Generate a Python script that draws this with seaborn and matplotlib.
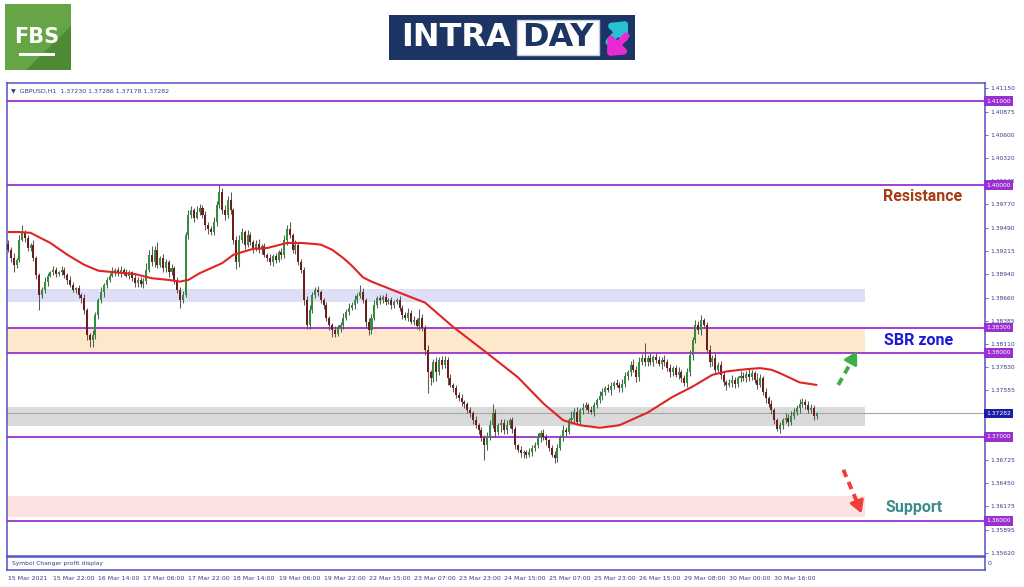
import numpy as np
import pandas as pd
import matplotlib
matplotlib.use("Agg")
import matplotlib.pyplot as plt
import matplotlib.transforms as mtransforms
from matplotlib.patches import Rectangle, Polygon
import seaborn as sns

# prices are kept as pips above 1.3600
base = 1.36
first_open_pips = 330

close_pips = [
    323, 313, 305, 311, 335, 344, 337, 325, 329, 313, 293, 269, 275, 285, 292, 296, 299, 294, 296, 299, 293, 287, 281, 275,
    277, 269, 265, 251, 221, 215, 221, 245, 263, 273, 281, 287, 292, 296, 299, 295, 299, 296, 292, 296, 289, 283, 287, 282,
    286, 299, 317, 308, 323, 305, 313, 301, 308, 296, 301, 287, 275, 263, 269, 340, 364, 370, 361, 368, 373, 364, 352, 348,
    344, 356, 376, 392, 370, 364, 382, 370, 335, 308, 335, 344, 329, 340, 332, 325, 330, 323, 327, 317, 313, 308, 315, 311,
    320, 317, 335, 348, 340, 323, 329, 308, 299, 263, 233, 251, 269, 275, 273, 263, 257, 242, 233, 227, 223, 230, 233, 242,
    249, 254, 257, 263, 268, 273, 263, 237, 227, 242, 257, 265, 263, 267, 261, 263, 257, 261, 263, 254, 245, 242, 248, 237,
    239, 232, 242, 230, 204, 177, 170, 189, 177, 192, 186, 192, 170, 162, 158, 150, 146, 142, 139, 132, 129, 120, 114, 108,
    99, 90, 101, 114, 129, 106, 114, 117, 108, 114, 120, 110, 90, 85, 81, 82, 79, 82, 87, 90, 99, 105, 100, 96,
    87, 79, 75, 87, 99, 108, 106, 120, 123, 130, 118, 132, 135, 138, 132, 130, 138, 144, 149, 154, 158, 156, 161, 164,
    162, 158, 163, 173, 177, 186, 180, 171, 189, 194, 189, 194, 189, 195, 192, 187, 192, 189, 182, 177, 182, 174, 177, 170,
    164, 177, 198, 215, 233, 227, 239, 233, 204, 189, 194, 180, 186, 174, 165, 162, 164, 168, 163, 170, 173, 170, 175, 171,
    176, 168, 162, 170, 154, 146, 139, 132, 120, 110, 114, 120, 123, 118, 125, 130, 135, 139, 142, 138, 132, 135, 125, 128.2,
]

wick_up = [
    4, 3, 6, 2, 5, 8, 3, 4, 2, 5, 3, 2, 4, 6, 3, 2, 5, 3, 2, 4, 3, 2, 5, 3,
    2, 4, 3, 5, 2, 3, 6, 4, 3, 5, 2, 4, 3, 6, 2, 3, 5, 2, 4, 3, 2, 5, 3, 4,
    3, 8, 6, 10, 4, 9, 3, 5, 4, 3, 5, 2, 3, 4, 5, 4, 6, 5, 3, 7, 4, 3, 5, 4,
    3, 6, 5, 8, 4, 6, 5, 10, 3, 4, 6, 5, 3, 7, 4, 3, 5, 6, 3, 4, 2, 5, 3, 4,
    3, 5, 6, 4, 8, 3, 5, 2, 4, 3, 5, 6, 4, 3, 5, 2, 3, 4, 2, 3, 5, 3, 4, 6,
    3, 5, 4, 6, 3, 8, 4, 3, 5, 4, 6, 3, 4, 2, 5, 3, 4, 2, 3, 5, 3, 4, 6, 3,
    5, 3, 10, 4, 3, 5, 3, 4, 6, 3, 5, 4, 3, 5, 2, 4, 3, 5, 2, 3, 4, 2, 5, 3,
    4, 3, 5, 6, 10, 4, 3, 5, 4, 6, 3, 4, 3, 2, 4, 3, 2, 5, 3, 4, 6, 3, 4, 3,
    2, 3, 4, 5, 3, 6, 4, 3, 8, 4, 6, 3, 5, 4, 3, 5, 4, 3, 6, 4, 3, 5, 4, 3,
    5, 3, 6, 4, 3, 5, 7, 4, 6, 5, 18, 4, 6, 3, 5, 4, 3, 6, 4, 5, 3, 4, 6, 3,
    4, 5, 6, 4, 6, 5, 6, 3, 4, 5, 4, 6, 3, 5, 4, 3, 5, 6, 4, 3, 5, 4, 3, 6,
    4, 3, 8, 5, 3, 4, 3, 5, 2, 3, 4, 3, 5, 4, 6, 5, 3, 6, 4, 3, 5, 4, 3, 2,
]

wick_dn = [
    3, 5, 8, 4, 3, 2, 5, 3, 4, 3, 5, 18, 4, 3, 5, 2, 3, 4, 2, 3, 4, 5, 3, 2,
    4, 3, 5, 4, 6, 8, 8, 4, 5, 3, 6, 4, 3, 2, 4, 3, 5, 3, 2, 4, 3, 5, 4, 3,
    5, 4, 3, 5, 6, 4, 3, 5, 4, 6, 3, 5, 4, 10, 3, 2, 4, 3, 5, 2, 4, 3, 5, 6,
    3, 4, 5, 3, 4, 6, 3, 4, 5, 8, 6, 4, 5, 3, 4, 6, 3, 4, 5, 3, 4, 3, 5, 4,
    3, 5, 4, 6, 3, 4, 5, 3, 4, 6, 5, 4, 3, 4, 5, 3, 5, 4, 6, 8, 4, 3, 5, 4,
    3, 4, 3, 5, 4, 3, 4, 6, 5, 4, 3, 4, 5, 3, 4, 3, 5, 4, 3, 4, 5, 3, 4, 3,
    4, 3, 5, 4, 6, 25, 8, 4, 10, 3, 5, 4, 8, 3, 5, 4, 3, 5, 4, 3, 5, 4, 3, 5,
    4, 17, 5, 4, 3, 6, 4, 8, 5, 4, 3, 5, 4, 3, 5, 6, 4, 3, 5, 4, 3, 5, 4, 6,
    4, 3, 6, 5, 3, 4, 5, 3, 4, 6, 3, 4, 5, 3, 4, 3, 5, 4, 3, 5, 4, 3, 6, 4,
    3, 5, 4, 3, 5, 4, 3, 5, 4, 3, 5, 4, 3, 5, 4, 3, 6, 4, 3, 5, 4, 3, 5, 4,
    3, 5, 4, 6, 3, 4, 5, 3, 4, 6, 5, 4, 3, 5, 4, 6, 3, 4, 5, 3, 4, 3, 5, 4,
    3, 4, 5, 3, 4, 6, 3, 5, 4, 3, 5, 4, 3, 5, 4, 3, 4, 6, 3, 5, 4, 3, 5, 4,
]

# moving average (read at a set of bars)
ma_bar = [0, 4, 8, 15, 21, 27, 32, 38, 45, 51, 57, 61, 64, 68, 72, 76, 80, 87, 92, 99, 104, 108, 111, 115, 119, 122,
          126, 129, 138, 148, 158, 170, 181, 190, 197, 203, 210, 217, 227, 236, 243, 250, 255, 260, 263, 267, 271,
          274, 281, 287]
ma_pips = [344, 344, 343, 331, 317, 305, 298, 296, 294, 289, 287, 285, 287, 295, 301, 307, 317, 324, 325, 331, 331,
           330, 329, 323, 313, 304, 290, 285, 273, 260, 231, 200, 171, 140, 120, 114, 111, 114, 129, 148, 160, 174,
           178, 180, 181, 182, 180, 176, 165, 162]

levels = [1.41000, 1.40000, 1.38300, 1.38000, 1.37000, 1.36000]
last_price = 1.37282
zone_lo = [1.38607, 1.38000, 1.37131, 1.36048]
zone_hi = [1.38762, 1.38300, 1.37357, 1.36298]
zone_colors = ["#dedef6", "#fde8cc", "#dadada", "#fde2e2"]

price_ticks = [1.41150, 1.40875, 1.40600, 1.40320, 1.40045, 1.39770, 1.39490, 1.39215, 1.38940, 1.38660,
               1.38385, 1.38110, 1.37830, 1.37555, 1.36725, 1.36450, 1.36175, 1.35895, 1.35620]

date_labels = ["15 Mar 2021", "15 Mar 22:00", "16 Mar 14:00", "17 Mar 06:00", "17 Mar 22:00", "18 Mar 14:00",
               "19 Mar 06:00", "19 Mar 22:00", "22 Mar 15:00", "23 Mar 07:00", "23 Mar 23:00", "24 Mar 15:00",
               "25 Mar 07:00", "25 Mar 23:00", "26 Mar 15:00", "29 Mar 08:00", "30 Mar 00:00", "30 Mar 16:00"]

# build OHLC frame
c = base + np.array(close_pips) / 10000
o = np.r_[base + first_open_pips / 10000, c[:-1]]
hi = np.maximum(o, c) + np.array(wick_up) / 10000
lo = np.minimum(o, c) - np.array(wick_dn) / 10000
df = pd.DataFrame({"bar": np.arange(len(c)), "open": o, "high": hi, "low": lo, "close": c})
ma = pd.DataFrame({"bar": ma_bar, "price": base + np.array(ma_pips) / 10000})

sns.set_theme(style="white")
plt.rcParams["font.family"] = ["DejaVu Sans"]

W, H = 1024, 587
fig = plt.figure(figsize=(W / 100, H / 100), dpi=100)
fig.patch.set_facecolor("white")

frame_col = "#5252c8"
text_col = "#3a3a8a"

# logos in pixel coords
lg = fig.add_axes([0, 0, 1, 1])
lg.set_xlim(0, W)
lg.set_ylim(H, 0)
lg.axis("off")
lg.add_patch(Rectangle((5, 4), 66, 66, color="#66a545", lw=0))
lg.add_patch(Polygon([[26, 70], [71, 26], [71, 70]], closed=True, color="#4e8a33", lw=0))
lg.text(37, 37, "FBS", color="white", fontsize=15, fontweight="bold", ha="center", va="center")
lg.add_patch(Rectangle((19, 53), 36, 3, color="white", lw=0))

lg.add_patch(Rectangle((389, 15), 246, 45, color="#1d3564", lw=0))
lg.text(456, 38, "INTRA", color="white", fontsize=23, fontweight="bold", ha="center", va="center")
lg.add_patch(Rectangle((517, 20), 82, 35, facecolor="white", edgecolor="#c9d0dc", lw=1))
lg.text(558, 38, "DAY", color="#1d3564", fontsize=23, fontweight="bold", ha="center", va="center")
lg.annotate("", xy=(630, 19), xytext=(607, 44),
            arrowprops=dict(arrowstyle="-|>,head_length=0.5,head_width=0.45", lw=5, color="#27c3d5", mutation_scale=14))
lg.annotate("", xy=(605, 58), xytext=(628, 34),
            arrowprops=dict(arrowstyle="-|>,head_length=0.5,head_width=0.45", lw=5, color="#e82ad2", mutation_scale=14))

# main price chart
ax = fig.add_axes([7 / W, (H - 556) / H, 978 / W, 473 / H])
ax.set_xlim(-0.4, 346.8)
ax.set_ylim(1.355833, 1.412143)

for zl, zh, zc in zip(zone_lo, zone_hi, zone_colors):
    ax.axhspan(zl, zh, xmin=0, xmax=0.877, color=zc, lw=0, zorder=0.5)

for lv in levels:
    ax.axhline(lv, color="#9a30d2", lw=1.3, zorder=1)
ax.axhline(last_price, color="#a8a8a8", lw=0.8, zorder=1)

up = df["close"] >= df["open"]
body_col = np.where(up, "#2f8f3c", "#6e1c1c")
ax.vlines(df["bar"], df["low"], df["high"], color="#5a5a5a", lw=0.75, zorder=2)
body_h = np.maximum((df["close"] - df["open"]).abs(), 0.00005)
ax.bar(df["bar"], body_h, bottom=np.minimum(df["open"], df["close"]), width=0.72,
       color=body_col, edgecolor="none", zorder=3)

sns.lineplot(data=ma, x="bar", y="price", ax=ax, color="#e02424", lw=1.5, zorder=4, legend=False)
ax.set_xlabel("")
ax.set_ylabel("")

# direction arrows
ax.plot([294.7, 300.6], [1.3762, 1.3797], color="#3db043", lw=2.8, ls=(0, (2, 1.4)), solid_capstyle="butt", zorder=5)
ax.annotate("", xy=(301.8, 1.3805), xytext=(300.0, 1.3794),
            arrowprops=dict(arrowstyle="-|>,head_length=0.6,head_width=0.35", lw=2.2, color="#3db043"), zorder=5)
ax.plot([296.5, 302.2], [1.3661, 1.3616], color="#f03c3c", lw=2.8, ls=(0, (2, 1.4)), solid_capstyle="butt", zorder=5)
ax.annotate("", xy=(303.3, 1.3606), xytext=(301.7, 1.3620),
            arrowprops=dict(arrowstyle="-|>,head_length=0.6,head_width=0.35", lw=2.2, color="#f03c3c"), zorder=5)

bt = mtransforms.blended_transform_factory(ax.transAxes, ax.transData)
ax.text(0.9366, 1.39869, "Resistance", transform=bt, color="#a63c12", fontsize=11.5, fontweight="bold",
        family="Roboto", ha="center", va="center")
ax.text(0.932, 1.38143, "SBR zone", transform=bt, color="#1a1ad8", fontsize=11.5, fontweight="bold",
        family="Roboto", ha="center", va="center")
ax.text(0.9274, 1.36155, "Support", transform=bt, color="#3d8c8c", fontsize=11.5, fontweight="bold",
        family="Roboto", ha="center", va="center")

ax.text(0.004, 0.988, "\u25bc  GBPUSD,H1  1.37230 1.37286 1.37178 1.37282", transform=ax.transAxes,
        fontsize=4.5, color=text_col, va="top", ha="left")

ax.yaxis.tick_right()
ax.set_yticks(price_ticks)
ax.set_yticklabels([f"{v:.5f}" for v in price_ticks])
ax.tick_params(axis="y", which="both", right=True, left=False, labelsize=4.3, labelcolor=text_col,
               color=frame_col, length=2.5, width=0.6, pad=1.5)
ax.set_xticks([])
for s in ax.spines.values():
    s.set_color(frame_col)
    s.set_linewidth(1.1)

for lv in levels:
    ax.text(1.0012, lv, f"{lv:.5f}", transform=bt, ha="left", va="center", fontsize=4.3, color="white",
            bbox=dict(boxstyle="square,pad=0.35", fc="#9a30d2", ec="none"), clip_on=False, zorder=6)
ax.text(1.0012, last_price, f"{last_price:.5f}", transform=bt, ha="left", va="center", fontsize=4.3,
        color="white", bbox=dict(boxstyle="square,pad=0.35", fc="#1c1caa", ec="none"), clip_on=False, zorder=6)

# small indicator panel with the time axis
ax2 = fig.add_axes([7 / W, (H - 570) / H, 978 / W, 13 / H])
ax2.set_xlim(-0.4, 346.8)
ax2.set_ylim(0, 1)
ax2.set_yticks([])
ax2.set_xticks(np.arange(len(date_labels)) * 16)
ax2.set_xticklabels(date_labels)
for lbl in ax2.get_xticklabels():
    lbl.set_ha("left")
ax2.tick_params(axis="x", labelsize=4.5, labelcolor=text_col, color=frame_col, length=2.5, width=0.6, pad=1.5)
for s in ax2.spines.values():
    s.set_color(frame_col)
    s.set_linewidth(1.1)
ax2.text(0.005, 0.5, "Symbol Changer profit display", transform=ax2.transAxes, fontsize=4.3,
         color=text_col, va="center", ha="left")
ax2.text(1.003, 0.5, "0", transform=ax2.transAxes, fontsize=4.5, color=text_col, va="center", ha="left")

fig.savefig("out.png", dpi=100, facecolor="white")
